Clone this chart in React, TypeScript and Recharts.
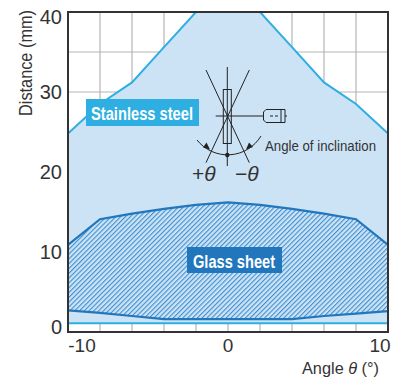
import React from "react";
import {
  ComposedChart,
  Area,
  XAxis,
  YAxis,
  CartesianGrid,
  ReferenceArea,
} from "recharts";

const angles = [-10, -8, -6, -4, -2, 0, 2, 4, 6, 8, 10];
const stainlessTop = [24.8, 28.5, 31.2, 35.6, 40, 40, 40, 35.6, 31.2, 28.5, 24.8];
const stainlessBottom = [1.1, 1.1, 1.1, 1.1, 1.1, 1.1, 1.1, 1.1, 1.1, 1.1, 1.1];
const glassTop = [10.9, 14.1, 14.8, 15.4, 15.9, 16.2, 15.9, 15.4, 14.8, 14.1, 10.9];
const glassBottom = [2.7, 2.4, 2.0, 1.6, 1.6, 1.6, 1.6, 1.6, 2.0, 2.3, 2.6];
const xTicks = [-10, 0, 10];
const yTicks = [0, 10, 20, 30, 40];
const xGrid = [-8, -6, -4, -2, 0, 2, 4, 6, 8];
const yGrid = [5, 10, 15, 20, 25, 30, 35];

const data = angles.map((angle, i) => ({
  angle,
  stainless: [stainlessBottom[i], stainlessTop[i]],
  glass: [glassBottom[i], glassTop[i]],
}));

const FONT = "'Liberation Sans', Arial, sans-serif";
const TEXT = "#333333";
const LIGHT = "#CCE3F6";
const CYAN = "#2FAEE2";
const BLUE = "#2277BC";
const HATCH = "#3F8FCE";

const XTick = (props: any) => {
  const v = props.payload.value;
  const nudge = v === -10 ? 14 : v === 10 ? -8 : 0;
  return (
    <text x={props.x + nudge} y={352} textAnchor="middle" fontSize={19} fontFamily={FONT} fill={TEXT}>
      {v}
    </text>
  );
};

const YTick = (props: any) => {
  const v = props.payload.value;
  const nudge = v === 40 ? 5 : v === 0 ? -5 : 0;
  return (
    <text x={62} y={props.y + nudge + 7} textAnchor="end" fontSize={20} fontFamily={FONT} fill={TEXT}>
      {v}
    </text>
  );
};

const Overlay = () => {
  const s = { stroke: "#222", strokeWidth: 1, fill: "none" };
  return (
    <svg width={400} height={380} style={{ position: "absolute", left: 0, top: 0, pointerEvents: "none" }}>
      <rect x={86} y={99} width={113} height={27} fill={CYAN} />
      <text x={91} y={120} fontSize={18.5} fontWeight={700} fontFamily={FONT} fill="#fff" textLength={102} lengthAdjust="spacingAndGlyphs">
        Stainless steel
      </text>
      <rect x={187} y={247} width={95} height={26} fill={BLUE} />
      <text x={193} y={267.5} fontSize={18.5} fontWeight={700} fontFamily={FONT} fill="#fff" textLength={82} lengthAdjust="spacingAndGlyphs">
        Glass sheet
      </text>

      <line x1={227.3} y1={67} x2={227.3} y2={166} {...s} />
      <rect x={223.3} y={89.5} width={8} height={54} {...s} />
      <line x1={206} y1={70} x2={249.3} y2={162.7} {...s} />
      <line x1={249.3} y1={70} x2={206} y2={162.7} {...s} />
      <line x1={215.7} y1={116} x2={287} y2={116} {...s} />
      <path d="M263.5 112 L266 109.5 L285 109.5 L285 122.5 L266 122.5 L263.5 120 Z" fill={LIGHT} stroke="#222" strokeWidth={1} />
      <line x1={281} y1={109.5} x2={281} y2={122.5} {...s} />
      <line x1={270} y1={116} x2={278} y2={116} stroke="#222" strokeWidth={1} strokeDasharray="3 2" />
      <path d="M197 140 A39 39 0 0 0 261 136" {...s} />
      <circle cx={227.3} cy={155} r={2.2} fill="#222" />
      <path d="M210 149.5 L203 147.5 L206.5 142.5 Z" fill="#222" />
      <path d="M246 149.5 L253 147 L249 142.5 Z" fill="#222" />
      <text x={192} y={181} fontSize={21} fontFamily={FONT} fill={TEXT}>
        +<tspan fontStyle="italic">θ</tspan>
      </text>
      <text x={235} y={181} fontSize={21} fontFamily={FONT} fill={TEXT}>
        −<tspan fontStyle="italic">θ</tspan>
      </text>
      <text x={265} y={151} fontSize={15} fontFamily={FONT} fill={TEXT} textLength={111} lengthAdjust="spacingAndGlyphs">
        Angle of inclination
      </text>
      <text
        transform="translate(32 63) rotate(-90)"
        textAnchor="middle"
        fontSize={18}
        fontFamily={FONT}
        fill={TEXT}
        textLength={106}
        lengthAdjust="spacingAndGlyphs"
      >
        Distance (mm)
      </text>
      <text x={302} y={374} fontSize={16} fontFamily={FONT} fill={TEXT} textLength={77} lengthAdjust="spacingAndGlyphs">
        Angle <tspan fontStyle="italic">θ</tspan> (°)
      </text>
    </svg>
  );
};

export default function App() {
  return (
    <div style={{ position: "absolute", left: 0, top: 0, width: 400, height: 380, background: "#fff" }}>
      <ComposedChart
        width={400}
        height={380}
        data={data}
        margin={{ top: 12, right: 12, bottom: 0, left: 0 }}
      >
        <defs>
          <pattern id="hatch" width="3.4" height="3.4" patternUnits="userSpaceOnUse" patternTransform="rotate(45)">
            <rect width="3.4" height="3.4" fill={LIGHT} />
            <rect width="1.1" height="3.4" fill={HATCH} />
          </pattern>
        </defs>
        <XAxis
          dataKey="angle"
          type="number"
          domain={[-10, 10]}
          ticks={xTicks}
          interval={0}
          height={48}
          axisLine={false}
          tickLine={false}
          tick={XTick}
        />
        <YAxis
          type="number"
          domain={[0, 40]}
          ticks={yTicks}
          interval={0}
          width={68}
          axisLine={false}
          tickLine={false}
          tick={YTick}
        />
        <CartesianGrid stroke="#B5B5B5" strokeWidth={1.2} verticalValues={xGrid} horizontalValues={yGrid} />
        <Area
          dataKey="stainless"
          type="linear"
          fill={LIGHT}
          fillOpacity={1}
          stroke={CYAN}
          strokeWidth={2}
          dot={false}
          activeDot={false}
          isAnimationActive={false}
        />
        <Area
          dataKey="glass"
          type="linear"
          fill="url(#hatch)"
          fillOpacity={1}
          stroke={BLUE}
          strokeWidth={2.2}
          dot={false}
          activeDot={false}
          isAnimationActive={false}
        />
        <ReferenceArea x1={-10} x2={10} y1={0} y2={40} fill="none" stroke="#333" strokeWidth={2} ifOverflow="visible" />
      </ComposedChart>
      <Overlay />
    </div>
  );
}
